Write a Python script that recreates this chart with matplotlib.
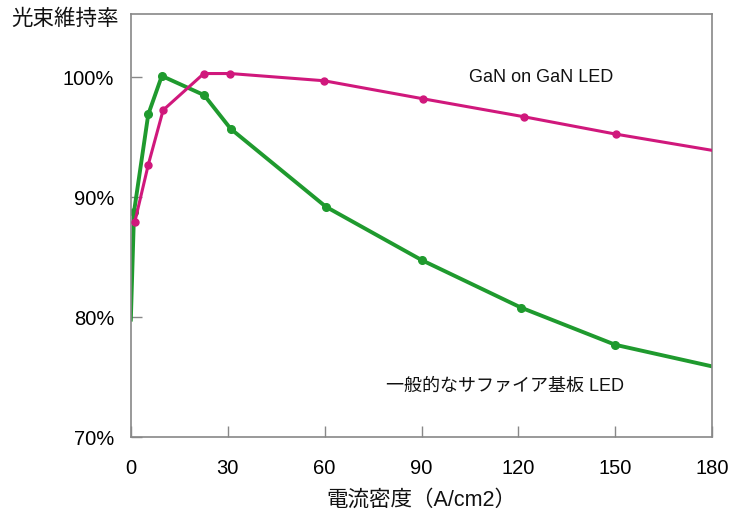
import matplotlib.pyplot as plt

plt.rcParams['font.family'] = ['Liberation Sans', 'Noto Sans CJK JP', 'DejaVu Sans']

# 電流密度 (A/cm2) vs 光束維持率 (%)
gan_x = [1.2, 5.4, 10, 22.6, 30.8, 59.8, 90.4, 121.7, 150.2, 180]
gan_y = [87.9, 92.7, 97.25, 100.3, 100.3, 99.7, 98.2, 96.7, 95.25, 93.9]

sap_x = [0, 1.0, 5.4, 9.6, 22.7, 30.9, 60.4, 90.1, 120.8, 150, 180]
sap_y = [79.8, 88.8, 96.9, 100.1, 98.5, 95.7, 89.2, 84.75, 80.8, 77.7, 75.9]

x_ticks = [0, 30, 60, 90, 120, 150, 180]
y_ticks = [70, 80, 90, 100]
y_labels = ["70%", "80%", "90%", "100%"]

magenta = '#d0187c'
green = '#1f9a2e'

fig = plt.figure(figsize=(7.35, 5.23), dpi=100)
ax = fig.add_axes([0.178, 0.164, 0.791, 0.809])

# last point of each curve is just where the line leaves the frame, no marker
ax.plot(gan_x, gan_y, color=magenta, lw=2.2, marker='o', ms=5,
        markevery=slice(0, -1), zorder=3)
ax.plot(sap_x, sap_y, color=green, lw=2.8, marker='o', ms=5.5,
        markevery=slice(1, -1), zorder=2)

ax.set_xlim(0, 180)
ax.set_ylim(70, 105.25)
ax.set_xticks(x_ticks)
ax.set_yticks(y_ticks)
ax.set_yticklabels(y_labels)
ax.tick_params(direction='in', length=8, width=1, color='#888888', labelsize=14.5)
ax.tick_params(axis='x', pad=16)
ax.tick_params(axis='y', pad=12)
for s in ax.spines.values():
    s.set_color('#888888')
    s.set_linewidth(1.2)

ax.text(127, 100, "GaN on GaN LED", fontsize=13, ha='center', va='center', color='#111111')
ax.text(115.9, 74.25, "一般的なサファイア基板 LED", fontsize=13, ha='center', va='center', color='#111111')

ax.set_xlabel("電流密度（A/cm2）", fontsize=15.5, labelpad=8, color='#111111')
fig.text(0.016, 0.962, "光束維持率", fontsize=15.5, ha='left', va='center', color='#111111')

fig.savefig('out.png', dpi=100)
